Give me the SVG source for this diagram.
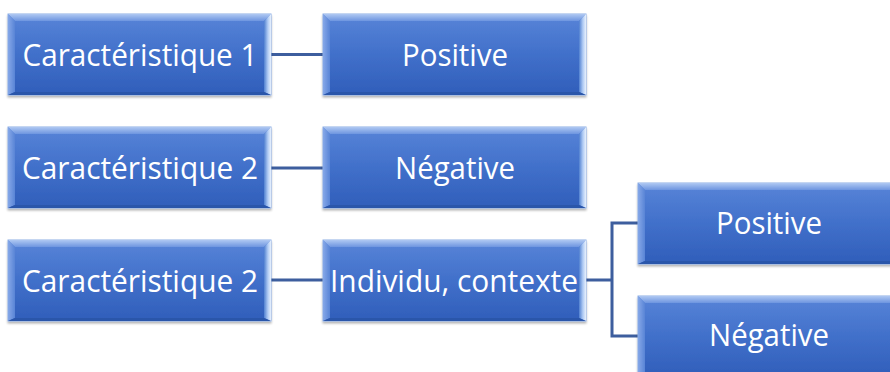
<svg xmlns="http://www.w3.org/2000/svg" xmlns:xlink="http://www.w3.org/1999/xlink" width="890" height="372" viewBox="0 0 890 372">
  <style>
    .lbl { font-family: "Open Sans", "Noto Sans", "Liberation Sans", sans-serif; font-size: 31.5px; fill: #ffffff; text-anchor: middle; }
    .link { fill: none; stroke: #3d5e9e; stroke-width: 3; }
  </style>
  <defs>
    <linearGradient id="face" x1="0" y1="0" x2="0" y2="1">
      <stop offset="0" stop-color="#5884d8"/>
      <stop offset="0.5" stop-color="#4170ca"/>
      <stop offset="1" stop-color="#305eba"/>
    </linearGradient>
    <linearGradient id="topBevel" x1="0" y1="0" x2="0" y2="1">
      <stop offset="0" stop-color="#afc8f2"/>
      <stop offset="1" stop-color="#6d95e0"/>
    </linearGradient>
    <linearGradient id="leftBevel" x1="0" y1="0" x2="1" y2="0">
      <stop offset="0" stop-color="#86a8e8"/>
      <stop offset="1" stop-color="#5884d6"/>
    </linearGradient>
    <linearGradient id="rightBevel" x1="0" y1="0" x2="1" y2="0">
      <stop offset="0" stop-color="#5080d0"/>
      <stop offset="0.55" stop-color="#b0cbf4"/>
      <stop offset="1" stop-color="#e8f1fd"/>
    </linearGradient>
    <filter id="shadow" x="-5%" y="-10%" width="110%" height="125%">
      <feGaussianBlur in="SourceAlpha" stdDeviation="1.2"/>
      <feOffset dx="0" dy="1.5" result="b"/>
      <feComponentTransfer><feFuncA type="linear" slope="0.3"/></feComponentTransfer>
      <feMerge><feMergeNode/><feMergeNode in="SourceGraphic"/></feMerge>
    </filter>
    <!-- bevelled box, 263 x 81 -->
    <g id="box" filter="url(#shadow)">
      <rect x="0" y="0" width="263" height="81" fill="url(#face)" stroke="#8eaee6" stroke-width="1"/>
      <polygon points="0,0 263,0 256,7 7,7" fill="url(#topBevel)"/>
      <polygon points="0,0 7,7 7,78 0,81" fill="url(#leftBevel)"/>
      <polygon points="263,0 263,81 256,78 256,7" fill="url(#rightBevel)"/>
      <polygon points="0,81 263,81 256,78 7,78" fill="#2b56aa"/>
    </g>
  </defs>

  <g id="connectors">
    <line class="link" x1="271" y1="54.5" x2="324" y2="54.5"/>
    <line class="link" x1="271" y1="168" x2="324" y2="168"/>
    <line class="link" x1="271" y1="280" x2="324" y2="280"/>
    <path class="link" d="M586,280 H612 M638,223 H612 V336 H638"/>
  </g>

  <g id="car1">
    <use xlink:href="#box" x="8" y="14"/>
    <text class="lbl" x="140" y="65.5" textLength="235" lengthAdjust="spacingAndGlyphs">Caractéristique 1</text>
  </g>
  <g id="pos1">
    <use xlink:href="#box" x="323" y="14"/>
    <text class="lbl" x="455" y="65.5" textLength="106" lengthAdjust="spacingAndGlyphs">Positive</text>
  </g>
  <g id="car2">
    <use xlink:href="#box" x="8" y="127"/>
    <text class="lbl" x="140" y="179" textLength="236" lengthAdjust="spacingAndGlyphs">Caractéristique 2</text>
  </g>
  <g id="neg2">
    <use xlink:href="#box" x="323" y="127"/>
    <text class="lbl" x="455" y="179" textLength="120" lengthAdjust="spacingAndGlyphs">Négative</text>
  </g>
  <g id="car3">
    <use xlink:href="#box" x="8" y="240"/>
    <text class="lbl" x="140" y="292" textLength="236" lengthAdjust="spacingAndGlyphs">Caractéristique 2</text>
  </g>
  <g id="ctx3">
    <use xlink:href="#box" x="323" y="240"/>
    <text class="lbl" x="454" y="292" textLength="248" lengthAdjust="spacingAndGlyphs">Individu, contexte</text>
  </g>
  <g id="pos3">
    <use xlink:href="#box" x="638" y="183"/>
    <text class="lbl" x="769" y="233.5" textLength="106" lengthAdjust="spacingAndGlyphs">Positive</text>
  </g>
  <g id="neg3">
    <use xlink:href="#box" x="638" y="296"/>
    <text class="lbl" x="769" y="346" textLength="120" lengthAdjust="spacingAndGlyphs">Négative</text>
  </g>
</svg>
